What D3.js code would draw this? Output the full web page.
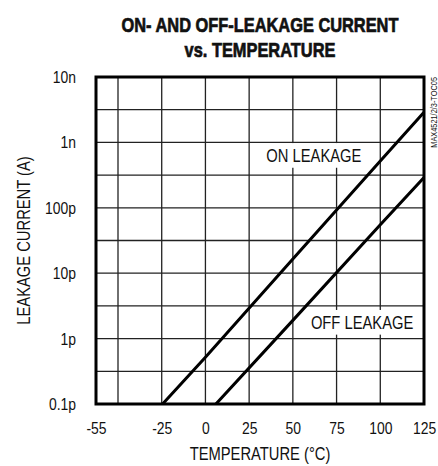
<!DOCTYPE html>
<meta charset="utf-8">
<script src="https://d3js.org/d3.v7.min.js"></script>
<style>
  body { margin: 0; background: #fff; }
  text { font-family: "Liberation Sans", Arial, sans-serif; fill: #111; }
</style>
<div id="chart"></div>
<script>
// values
const onTemp = [-24.5, 0, 50, 100, 125];
const onCurrent = [1e-13, 5.2e-13, 1.65e-11, 5.2e-10, 2.9e-9];
const offTemp = [6, 50, 100, 125];
const offCurrent = [1e-13, 1.9e-12, 5.5e-11, 2.9e-10];

const xTicks = [-55, -25, 0, 25, 50, 75, 100, 125];
const xGrid = [-50, -25, 0, 25, 50, 75, 100];
const yTicks = [1e-13, 1e-12, 1e-11, 1e-10, 1e-9, 1e-8];
const yTickLabels = ["0.1p", "1p", "10p", "100p", "1n", "10n"];

const NARROW = 0.82; // squeeze Liberation Sans to look like a narrow face

const margin = {top: 77, right: 14, bottom: 62, left: 96},
      width = 438 - margin.left - margin.right,
      height = 466 - margin.top - margin.bottom;

const svg = d3.select("#chart")
  .append("svg")
  .attr("width", 438)
  .attr("height", 466);

const g = svg.append("g")
  .attr("transform", `translate(${margin.left}, ${margin.top})`);

// first segment (-55 to -50) is squeezed on the original
const x = d3.scaleLinear()
  .domain([-55, -50, 125])
  .range([0, 22, width]);

const y = d3.scaleLog()
  .domain([1e-13, 1e-8])
  .range([height, 0]);

// grid: decades and half decades
const yGrid = [];
for (let k = -13; k < -8; k++) {
  if (k > -13) yGrid.push(Math.pow(10, k));
  yGrid.push(Math.pow(10, k + 0.5));
}

g.append("g")
  .selectAll("line")
  .data(xGrid)
  .join("line")
    .attr("x1", d => x(d)).attr("x2", d => x(d))
    .attr("y1", 0).attr("y2", height)
    .attr("stroke", "#222").attr("stroke-width", 1.3);

g.append("g")
  .selectAll("line")
  .data(yGrid)
  .join("line")
    .attr("x1", 0).attr("x2", width)
    .attr("y1", d => y(d)).attr("y2", d => y(d))
    .attr("stroke", "#222").attr("stroke-width", 1.3);

// text helper: squeezed text at (px, py)
function narrowText(parent, px, py, str, size, anchor) {
  const tg = parent.append("g")
    .attr("transform", `translate(${px}, ${py}) scale(${NARROW}, 1)`);
  const t = tg.append("text")
    .attr("text-anchor", anchor || "middle")
    .style("font-size", size + "px")
    .text(str);
  return {g: tg, text: t};
}

// labels with white boxes (behind the lines)
const labels = [
  {text: "ON LEAKAGE", t: 62, i: 6.2e-10},
  {text: "OFF LEAKAGE", t: 89.6, i: 1.74e-12}
];
labels.forEach(l => {
  const lg = g.append("g");
  const n = narrowText(lg, x(l.t), y(l.i) + 6.5, l.text, 18);
  const bb = n.text.node().getBBox();
  const w = bb.width * NARROW;
  lg.insert("rect", "g")
    .attr("x", x(l.t) - w / 2 - 11).attr("y", y(l.i) + 6.5 + bb.y - 3)
    .attr("width", w + 22).attr("height", bb.height + 5)
    .attr("fill", "#fff");
});

// clip for data
g.append("clipPath").attr("id", "clip")
  .append("rect").attr("width", width).attr("height", height);

const line = d3.line()
  .x(d => x(d[0]))
  .y(d => y(d[1]));

const onData = onTemp.map((t, i) => [t, onCurrent[i]]);
const offData = offTemp.map((t, i) => [t, offCurrent[i]]);

g.append("g").attr("clip-path", "url(#clip)")
  .selectAll("path")
  .data([onData, offData])
  .join("path")
    .attr("d", line)
    .attr("fill", "none")
    .attr("stroke", "#000")
    .attr("stroke-width", 3);

// frame
g.append("rect")
  .attr("width", width).attr("height", height)
  .attr("fill", "none").attr("stroke", "#000").attr("stroke-width", 3);

// axes
const xAxis = g.append("g")
  .attr("transform", `translate(0, ${height})`)
  .call(d3.axisBottom(x).tickValues(xTicks).tickSize(0).tickPadding(18).tickFormat(d => String(d)));
xAxis.select(".domain").remove();
xAxis.selectAll("text")
  .style("font-size", "17px").attr("fill", "#111")
  .attr("transform", `scale(${NARROW}, 1)`);

const yAxis = g.append("g")
  .call(d3.axisLeft(y).tickValues(yTicks).tickSize(0).tickPadding(20)
    .tickFormat((d, i) => yTickLabels[i]));
yAxis.select(".domain").remove();
yAxis.selectAll("text")
  .style("font-size", "17px").attr("fill", "#111")
  .attr("x", -20 / NARROW)
  .attr("transform", `scale(${NARROW}, 1)`);

// axis titles
narrowText(svg, margin.left + width / 2, 460, "TEMPERATURE (°C)", 18);

const yt = svg.append("g")
  .attr("transform", `translate(30, ${margin.top + height / 2}) rotate(-90)`);
narrowText(yt, 0, 0, "LEAKAGE CURRENT (A)", 18);

// title, extra stroke for the heavy look
[["ON- AND OFF-LEAKAGE CURRENT", 32], ["vs. TEMPERATURE", 57]].forEach(([s, ty]) => {
  narrowText(svg, margin.left + width / 2, ty, s, 20).text
    .style("font-weight", "bold")
    .attr("stroke", "#111").attr("stroke-width", 0.7);
});

// part number
const pn = svg.append("g")
  .attr("transform", `translate(437, ${margin.top}) rotate(-90)`);
narrowText(pn, 0, 0, "MAX4521/2/3-TOC05", 9, "end");
</script>
